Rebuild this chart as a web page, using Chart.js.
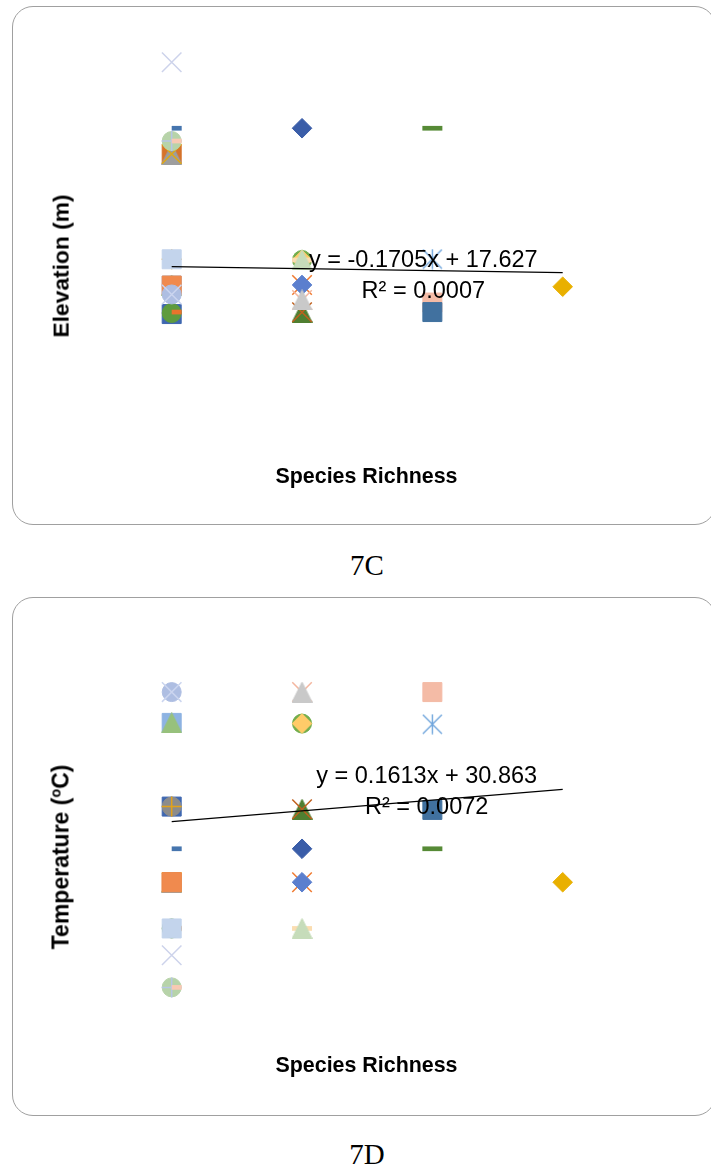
<!DOCTYPE html>
<html lang="en">
<head>
<meta charset="UTF-8">
<title>Species richness vs elevation and temperature</title>
<style>
  html, body { margin: 0; padding: 0; background: #fff; }
  body { width: 711px; height: 1167px; position: relative; overflow: hidden;
         font-family: "Liberation Sans", Arial, sans-serif; color: #000; }
  .box { position: absolute; left: 12px; width: 704px; height: 519px;
         border: 1.5px solid #a0a0a0; border-radius: 21px; box-sizing: border-box; }
  canvas { position: absolute; left: 0; }
  .ytitle { position: absolute; font-weight: bold; line-height: 1; white-space: nowrap;
            transform: translate(-50%, -50%) rotate(-90deg); }
  .ytitle sup { font-size: 0.62em; line-height: 0; vertical-align: 0.55em; }
  .xtitle { position: absolute; font-weight: bold; font-size: 21.4px; line-height: 1;
            white-space: nowrap; transform: translateX(-50%); }
  .eq { position: absolute; font-size: 23.5px; line-height: 31px; text-align: center;
        white-space: nowrap; transform: translateX(-50%); }
  .caption { position: absolute; font-family: "Liberation Serif", "Times New Roman", serif;
             font-size: 29px; line-height: 1; transform: translateX(-50%); }
</style>
</head>
<body>
  <div class="box" style="top:6px"></div>
  <div class="box" style="top:596.5px"></div>

  <canvas id="chart-elevation" width="711" height="540" style="top:0"></canvas>
  <canvas id="chart-temperature" width="711" height="540" style="top:590px"></canvas>

  <div class="ytitle" style="left:61px; top:266px; font-size:22.8px">Elevation (m)</div>
  <div class="xtitle" style="left:366.5px; top:466.2px">Species Richness</div>
  <div class="eq" id="eq-elevation" style="left:423.3px; top:243.6px"></div>
  <div class="caption" style="left:367px; top:551.4px">7C</div>

  <div class="ytitle" style="left:61px; top:857px; font-size:23px">Temperature (<sup>o</sup>C)</div>
  <div class="xtitle" style="left:366.5px; top:1055.4px">Species Richness</div>
  <div class="eq" id="eq-temperature" style="left:426.7px; top:760.4px"></div>
  <div class="caption" style="left:367px; top:1139.7px">7D</div>

  <script src="https://cdn.jsdelivr.net/npm/chart.js"></script>
  <script>
    // one entry per site (each site is its own series, as in the Excel sheet)
    const richness = [1, 1, 1, 1, 1, 1, 1, 1, 1, 1, 1, 1, 1, 1, 1, 1, 1, 1, 1,
                      2, 2, 2, 2, 2, 2, 2, 2, 2, 2, 2,
                      3, 3, 3, 3,
                      4];
    const elevation = [13.42, 13.51, 13.59, 15.85, 18.09, 15.85, 15.85, 27.06, 27.06, 27.06,
                       28.17, 28.17, 28.17, 18.09, 15.85, 15.09, 15.09, 34.88, 29.26,
                       13.57, 13.57, 15.90, 15.90, 14.62, 14.62, 29.26, 18.03, 18.03, 18.03, 18.03,
                       14.40, 13.59, 29.26, 18.11,
                       15.75];
    const temperature = [31.25, 29.43, 29.43, 31.25, 31.25, 32.50, 32.50, 30.12, 30.12, 30.12,
                         28.55, 28.55, 28.55, 29.43, 30.12, 32.96, 32.96, 29.03, 30.62,
                         31.21, 31.21, 30.12, 30.12, 32.96, 32.96, 30.62, 32.49, 32.49, 29.43, 29.43,
                         32.96, 31.20, 30.62, 32.48,
                         30.12];

    // linear trendlines as reported on the charts
    const elevationSlope = -0.1705, elevationIntercept = 17.627, elevationR2 = '0.0007';
    const temperatureSlope = 0.1613, temperatureIntercept = 30.863, temperatureR2 = '0.0072';

    // marker look per series (Excel automatic markers)
    const markerShape = ['square', 'circle', 'dot', 'circle', 'plus', 'square', 'triangle', 'square', 'triangle', 'x',
                         'circle', 'plus', 'dot', 'square', 'square', 'circle', 'x', 'x', 'dot',
                         'triangle', 'x', 'x', 'diamond', 'x', 'triangle', 'diamond', 'circle', 'diamond', 'dash', 'triangle',
                         'square', 'square', 'dash', 'asterisk',
                         'diamond'];
    const markerColor = ['#3f67b0', '#5e9b3e', '#e8742c', '#8c8c8c', '#e3a21a', '#8db3e2', '#97c17c', '#d6732b', '#9e9e9e', '#e0a812',
                         '#b7d3a9', '#b7c6e6', '#f8c9b3', '#c3d4ec', '#f08a4e', '#aebee2', '#cbd5ef', '#cdd3eb', '#4675ae',
                         '#4f7f31', '#c0601e', '#f07b32', '#5b7fce', '#f4b7a0', '#c9c9c9', '#3a5da8', '#72ad4c', '#ffcb69', '#fbddb0', '#c6dcba',
                         '#f4bba6', '#41719f', '#568a36', '#6fa5dc',
                         '#e9b000'];

    const builtIn = {
      square:  { style: 'rect', r: 13.43, bw: 1 },
      circle:  { style: 'circle', r: 9.5, bw: 1 },
      diamond: { style: 'rectRot', r: 9.8, bw: 1 },
      x:       { style: 'crossRot', r: 13.8, bw: 1.5 },
      plus:    { style: 'cross', r: 10, bw: 1.5 },
      dot:     { style: 'dash', r: 10, bw: 4.7 },
      dash:    { style: 'line', r: 10, bw: 4.7 }
    };

    // Excel triangle / asterisk drawn on a small canvas, used as pointStyle
    function markerCanvas(shape, color) {
      const c = document.createElement('canvas');
      c.width = 21; c.height = 21;
      const g = c.getContext('2d');
      g.fillStyle = color;
      g.strokeStyle = color;
      g.beginPath();
      if (shape === 'triangle') {
        g.lineWidth = 1;
        g.moveTo(10.5, 0.5); g.lineTo(20.5, 20.5); g.lineTo(0.5, 20.5); g.closePath();
        g.fill();
        g.stroke();
      } else {
        g.lineWidth = 1.4;
        g.moveTo(1, 1); g.lineTo(20, 20);
        g.moveTo(20, 1); g.lineTo(1, 20);
        g.moveTo(10.5, 0.5); g.lineTo(10.5, 20.5);
        g.stroke();
      }
      return c;
    }

    function buildChart(canvasId, values, slope, intercept, yMin, yMax, padTop, padBottom) {
      const datasets = richness.map((x, i) => {
        const shape = markerShape[i];
        const spec = builtIn[shape];
        return {
          label: 'Site ' + (i + 1),
          data: [{ x: x, y: values[i] }],
          pointStyle: spec ? spec.style : markerCanvas(shape, markerColor[i]),
          pointRadius: spec ? spec.r : 10.5,
          pointBorderWidth: spec ? spec.bw : 0,
          pointBackgroundColor: markerColor[i],
          pointBorderColor: markerColor[i],
          order: -i,
          clip: false
        };
      });
      const xLo = Math.min(...richness), xHi = Math.max(...richness);
      datasets.push({
        type: 'line',
        label: 'Linear trend',
        data: [{ x: xLo, y: intercept + slope * xLo }, { x: xHi, y: intercept + slope * xHi }],
        showLine: true,
        borderColor: '#000',
        borderWidth: 1.3,
        pointRadius: 0,
        order: -1000,
        clip: false
      });

      new Chart(document.getElementById(canvasId), {
        type: 'scatter',
        data: { datasets: datasets },
        options: {
          responsive: false,
          animation: false,
          events: [],
          layout: { padding: { left: 106.53, right: 83.13, top: padTop, bottom: padBottom } },
          scales: {
            x: { type: 'linear', display: false, min: 0.5, max: 4.5 },
            y: { type: 'linear', display: false, min: yMin, max: yMax }
          },
          plugins: { legend: { display: false }, tooltip: { enabled: false } }
        }
      });
    }

    function equationText(slope, intercept, r2) {
      return 'y = ' + slope + 'x + ' + intercept + '<br>R\u00b2 = ' + r2;
    }

    buildChart('chart-elevation', elevation, elevationSlope, elevationIntercept, 0, 36, 49.19, 68.53);
    buildChart('chart-temperature', temperature, temperatureSlope, temperatureIntercept, 28, 34, 32.45, 105.79);

    document.getElementById('eq-elevation').innerHTML = equationText(elevationSlope, elevationIntercept, elevationR2);
    document.getElementById('eq-temperature').innerHTML = equationText(temperatureSlope, temperatureIntercept, temperatureR2);
  </script>
</body>
</html>
